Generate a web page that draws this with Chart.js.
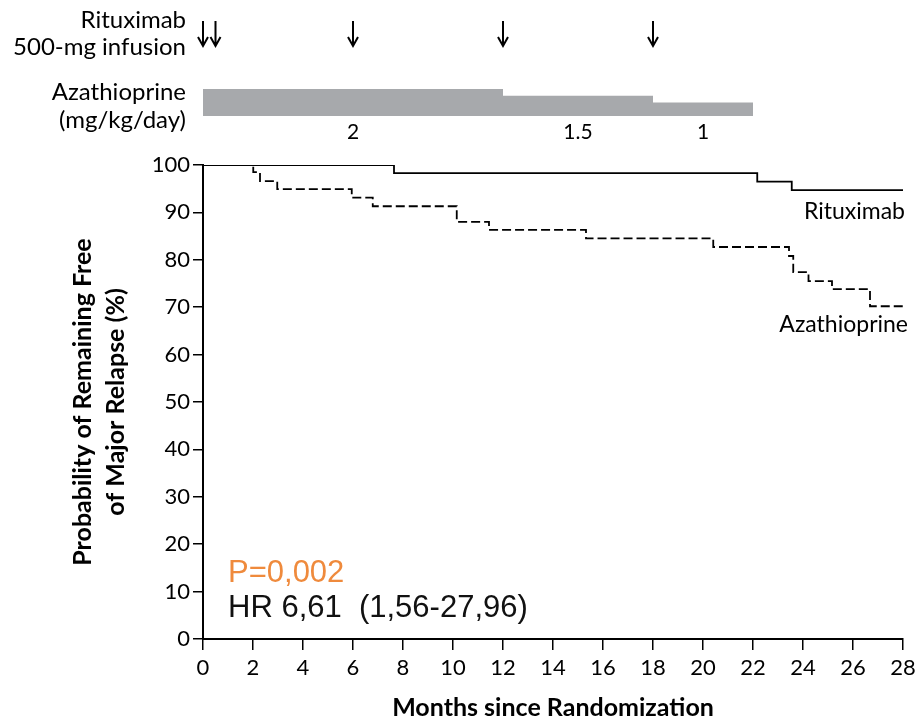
<!DOCTYPE html>
<html>
<head>
<meta charset="utf-8">
<script src="https://cdn.jsdelivr.net/npm/chart.js@4.4.1/dist/chart.umd.min.js"></script>
<style>
  html, body { margin: 0; padding: 0; background: #fff; }
  #wrap { width: 918px; height: 723px; position: relative; }
</style>
</head>
<body>
<div id="wrap"><canvas id="kmChart"></canvas></div>
<script>
// Kaplan-Meier: probability of remaining free of major relapse
var rituximabMonths = [0, 7.64, 22.17, 23.55, 28];
var rituximabFree = [100, 98.3, 96.5, 94.7, 94.7];
var azathioprineMonths = [0, 2.01, 2.28, 2.97, 5.95, 6.79, 10.15, 11.44, 15.32, 20.41, 23.44, 23.61, 24.22, 25.16, 26.68, 28];
var azathioprineFree = [100, 98.5, 96.6, 94.9, 93.1, 91.3, 88.0, 86.3, 84.5, 82.7, 80.8, 77.4, 75.5, 73.8, 70.2, 70.2];

// treatment schedule shown above the plot
var infusionMonths = [0, 0.5, 6, 12, 18];
var doseStart = [0, 12, 18];
var doseEnd = [12, 18, 22];
var doseValue = [2, 1.5, 1];
var doseLabels = ['2', '1.5', '1'];

var xTicks = [0, 2, 4, 6, 8, 10, 12, 14, 16, 18, 20, 22, 24, 26, 28];
var yTicks = [0, 10, 20, 30, 40, 50, 60, 70, 80, 90, 100];

function toPoints(xs, ys) {
    return xs.map(function (v, i) { return { x: v, y: ys[i] }; });
}

var annotations = {
    id: 'annotations',
    afterDraw: function (chart) {
        var ctx = chart.ctx;
        var xs = chart.scales.x, ys = chart.scales.y;
        ctx.save();
        ctx.fillStyle = '#000';
        ctx.strokeStyle = '#000';

        // left labels
        ctx.font = '24px Lato';
        ctx.textAlign = 'right';
        ctx.textBaseline = 'middle';
        ctx.fillText('Rituximab', 186, 20);
        ctx.fillText('500-mg infusion', 186, 47);
        ctx.fillText('Azathioprine', 186, 92);
        ctx.fillText('(mg/kg/day)', 186, 120);

        // infusion arrows
        ctx.lineWidth = 2;
        infusionMonths.forEach(function (m) {
            var px = xs.getPixelForValue(m);
            ctx.beginPath();
            ctx.moveTo(px, 21);
            ctx.lineTo(px, 46);
            ctx.moveTo(px - 5, 37);
            ctx.lineTo(px, 46);
            ctx.lineTo(px + 5, 37);
            ctx.stroke();
        });

        // azathioprine dose bars
        ctx.fillStyle = '#a7a9ac';
        doseValue.forEach(function (d, i) {
            var x0 = xs.getPixelForValue(doseStart[i]);
            var x1 = xs.getPixelForValue(doseEnd[i]);
            var h = d * 13.5;
            ctx.fillRect(x0, 116 - h, x1 - x0, h);
        });
        ctx.fillStyle = '#000';
        ctx.font = '21px Lato';
        ctx.textAlign = 'center';
        doseLabels.forEach(function (t, i) {
            var mid = xs.getPixelForValue((doseStart[i] + doseEnd[i]) / 2);
            ctx.fillText(t, mid, 132);
        });

        // curve labels
        ctx.font = '23px Lato';
        ctx.textAlign = 'right';
        ctx.fillText('Rituximab', xs.getPixelForValue(28) + 2, ys.getPixelForValue(90.2));
        ctx.fillText('Azathioprine', xs.getPixelForValue(28) + 5, ys.getPixelForValue(66.4));

        // statistics
        ctx.textAlign = 'left';
        ctx.font = '31px "Liberation Sans"';
        ctx.fillStyle = '#ef8a3c';
        ctx.fillText('P=0,002', xs.getPixelForValue(1), ys.getPixelForValue(13.8));
        ctx.fillStyle = '#111';
        ctx.fillText('HR 6,61  (1,56-27,96)', xs.getPixelForValue(1), ys.getPixelForValue(6.4));
        ctx.restore();
    }
};

Chart.defaults.font.family = 'Lato';
Chart.defaults.color = '#000';

var ctx = document.getElementById('kmChart').getContext('2d');
var kmChart = new Chart(ctx, {
    type: 'line',
    data: {
        datasets: [
            {
                label: 'Rituximab',
                data: toPoints(rituximabMonths, rituximabFree),
                stepped: 'before',
                borderColor: '#000',
                borderWidth: 1.8,
                pointRadius: 0,
                fill: false
            },
            {
                label: 'Azathioprine',
                data: toPoints(azathioprineMonths, azathioprineFree),
                stepped: 'before',
                borderColor: '#000',
                borderWidth: 1.8,
                borderDash: [9, 4],
                pointRadius: 0,
                fill: false
            }
        ]
    },
    options: {
        responsive: true,
        maintainAspectRatio: false,
        animation: false,
        layout: { padding: { top: 165, right: 15, left: 0, bottom: 0 } },
        plugins: {
            legend: { display: false },
            tooltip: { enabled: false }
        },
        scales: {
            x: {
                type: 'linear',
                min: 0,
                max: 28,
                afterBuildTicks: function (s) { s.ticks = xTicks.map(function (v) { return { value: v }; }); },
                afterFit: function (s) { s.height = 84; s.paddingLeft = 0; s.paddingRight = 0; },
                ticks: { font: { size: 22 }, padding: 5, maxRotation: 0, autoSkip: false },
                grid: { drawOnChartArea: false, drawTicks: true, tickLength: 11, color: '#000', lineWidth: 1.5 },
                border: { display: true, color: '#000', width: 2 },
                title: {
                    display: true,
                    text: 'Months since Randomization',
                    font: { size: 25, weight: 'bold' },
                    padding: { top: 0, bottom: 0 }
                }
            },
            y: {
                min: 0,
                max: 100,
                afterBuildTicks: function (s) { s.ticks = yTicks.map(function (v) { return { value: v }; }); },
                afterFit: function (s) { s.width = 203; s.paddingTop = 0; s.paddingBottom = 0; },
                ticks: { font: { size: 22 }, padding: 3 },
                grid: { drawOnChartArea: false, drawTicks: true, tickLength: 10, color: '#000', lineWidth: 1.5 },
                border: { display: true, color: '#000', width: 2 },
                title: {
                    display: true,
                    text: ['Probability of Remaining Free', 'of Major Relapse (%)'],
                    font: { size: 25, weight: 'bold', lineHeight: 1.3 },
                    padding: { top: 67, bottom: 0 }
                }
            }
        }
    },
    plugins: [annotations]
});
</script>
</body>
</html>
